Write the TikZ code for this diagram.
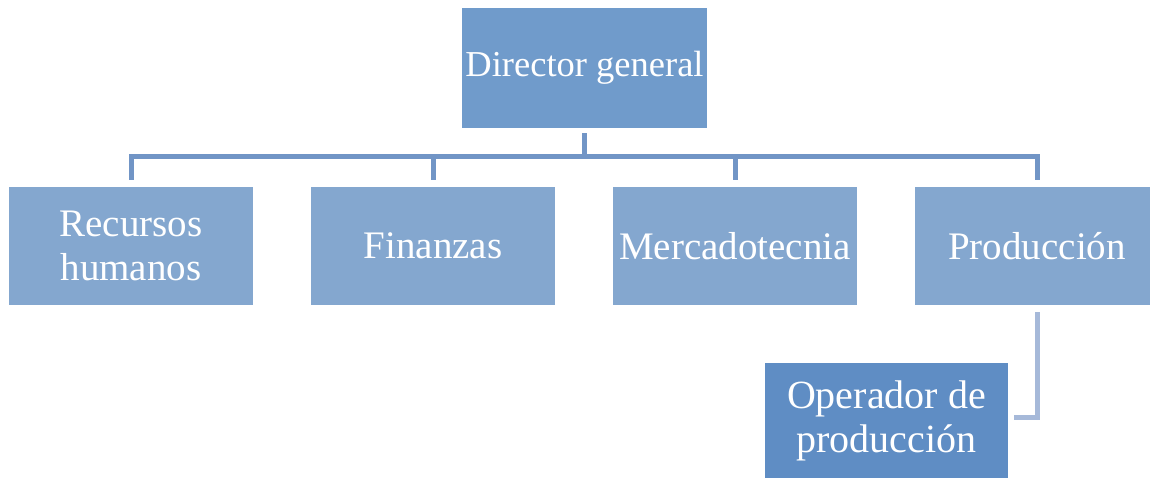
\documentclass[tikz,border=0pt]{standalone}
\usepackage{fontspec}
\setmainfont{Liberation Serif}
\definecolor{topblue}{HTML}{709BCB}
\definecolor{midblue}{HTML}{84A7CF}
\definecolor{opblue}{HTML}{5F8DC4}
\definecolor{connblue}{HTML}{7195C6}
\definecolor{conn2blue}{HTML}{A6B9D9}
\tikzset{
  box/.style={rectangle, draw=none, text=white, align=center, inner sep=0pt,
    font=\fontsize{39}{44}\selectfont},
  topbox/.style={box, fill=topblue, minimum width=245pt, minimum height=120pt,
    font=\fontsize{36.5}{44}\selectfont},
  childbox/.style={box, fill=midblue, minimum width=244pt, minimum height=118pt},
  opbox/.style={box, fill=opblue, minimum width=243pt, minimum height=115pt,
    font=\fontsize{40}{44}\selectfont},
  conn/.style={draw=connblue, line width=5pt, line join=miter},
  conntwo/.style={draw=conn2blue, line width=5pt, line join=miter}
}
\begin{document}
\begin{tikzpicture}[x=1pt,y=-1pt]
\useasboundingbox (0,0) rectangle (1150,478);
\node[topbox] (dir) at (584.5,68) {Director general};
\node[childbox] (rh) at (131,246) {Recursos\\humanos};
\node[childbox] (fin) at (433,246) {Finanzas};
\node[childbox] (merc) at (735,246) {Mercadotecnia};
\node[childbox] (prod) at (1037,246) {Producción};
\node[opbox] (op) at (886.5,420.5) {Operador de\\producción};
\coordinate (hb) at (584.5,156.5);
\draw[conn] ([yshift=-5pt]dir.south) -- (hb);
\draw[conn] ([yshift=7pt]rh.north) |- (hb) -| ([yshift=7pt]prod.north);
\draw[conn] (hb -| fin.north) -- ([yshift=7pt]fin.north);
\draw[conn] (hb -| merc.north) -- ([yshift=7pt]merc.north);
\draw[conntwo] ([yshift=-7pt]prod.south) |- ([xshift=6pt,yshift=3pt]op.east);
\end{tikzpicture}
\end{document}
